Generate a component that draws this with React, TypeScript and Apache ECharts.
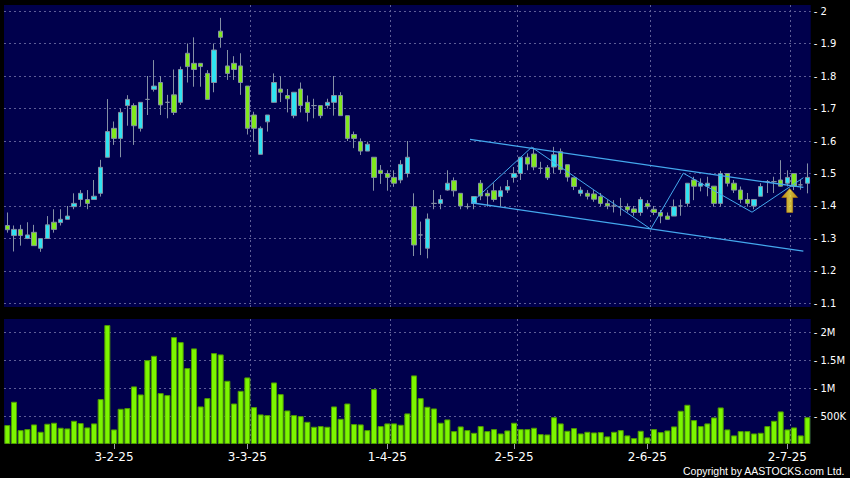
import React, { useEffect, useRef } from "react";
import * as echarts from "echarts";

// Trading days (HK calendar) shown on the chart, per month of 2025
const JAN_DAYS = [7, 8, 9, 10, 13, 14, 15, 16, 17, 20, 21, 22, 23, 24, 27, 28];
const FEB_DAYS = [3, 4, 5, 6, 7, 10, 11, 12, 13, 14, 17, 18, 19, 20, 21, 24, 25, 26, 27, 28];
const MAR_DAYS = [3, 4, 5, 6, 7, 10, 11, 12, 13, 14, 17, 18, 19, 20, 21, 24, 25, 26, 27, 28, 31];
const APR_DAYS = [1, 2, 3, 7, 8, 9, 10, 11, 14, 15, 16, 17, 22, 23, 24, 25, 28, 29, 30];
const MAY_DAYS = [2, 6, 7, 8, 9, 12, 13, 14, 15, 16, 19, 20, 21, 22, 23, 26, 27, 28, 29, 30];
const JUN_DAYS = [2, 3, 4, 5, 6, 9, 10, 11, 12, 13, 16, 17, 18, 19, 20, 23, 24, 25, 26, 27, 30];
const JUL_DAYS = [2, 3, 4, 7];
const MONTHS: [number, number[]][] = [
  [1, JAN_DAYS], [2, FEB_DAYS], [3, MAR_DAYS], [4, APR_DAYS], [5, MAY_DAYS], [6, JUN_DAYS], [7, JUL_DAYS],
];
const categories: string[] = MONTHS.flatMap(([m, ds]) => ds.map((d) => `${d}-${m}-25`));

const TICK_LABELS = ["3-2-25", "3-3-25", "1-4-25", "2-5-25", "2-6-25", "2-7-25"];

const OPEN = [
  1.34, 1.309, 1.328, 1.30, 1.319, 1.27, 1.30, 1.35, 1.349, 1.359,
  1.398, 1.42, 1.42, 1.42, 1.439, 1.55, 1.639, 1.608, 1.709, 1.709,
  1.639, 1.728, 1.759, 1.78, 1.719, 1.742, 1.719, 1.87, 1.839, 1.839,
  1.808, 1.78, 1.938, 1.831, 1.839, 1.831, 1.769, 1.68, 1.559, 1.659,
  1.719, 1.76, 1.74, 1.678, 1.76, 1.719, 1.709, 1.709, 1.709, 1.719,
  1.74, 1.678, 1.62, 1.598, 1.569, 1.55, 1.51, 1.50, 1.488, 1.48,
  1.50, 1.398, 1.311, 1.27, 1.408, 1.408, 1.449, 1.478, 1.439, 1.398,
  1.408, 1.47, 1.439, 1.447, 1.429, 1.449, 1.488, 1.50, 1.55, 1.56,
  1.516, 1.518, 1.52, 1.567, 1.527, 1.487, 1.439, 1.439, 1.437, 1.429,
  1.408, 1.40, 1.398, 1.398, 1.391, 1.38, 1.408, 1.39, 1.38, 1.369,
  1.369, 1.40, 1.408, 1.48, 1.461, 1.461, 1.461, 1.408, 1.50, 1.47,
  1.449, 1.42, 1.40, 1.43, 1.475, 1.475, 1.48, 1.47, 1.50, 1.465,
  1.47,
];
const CLOSE = [
  1.327, 1.328, 1.309, 1.311, 1.278, 1.30, 1.342, 1.328, 1.359, 1.369,
  1.408, 1.439, 1.408, 1.43, 1.519, 1.629, 1.608, 1.688, 1.728, 1.647,
  1.719, 1.728, 1.769, 1.711, 1.719, 1.688, 1.82, 1.829, 1.82, 1.829,
  1.728, 1.88, 1.919, 1.808, 1.82, 1.78, 1.639, 1.639, 1.639, 1.68,
  1.78, 1.75, 1.73, 1.75, 1.709, 1.688, 1.709, 1.678, 1.719, 1.74,
  1.678, 1.608, 1.608, 1.569, 1.59, 1.488, 1.50, 1.488, 1.47, 1.528,
  1.55, 1.28, 1.311, 1.36, 1.408, 1.42, 1.47, 1.447, 1.40, 1.398,
  1.429, 1.431, 1.431, 1.42, 1.447, 1.46, 1.50, 1.55, 1.529, 1.52,
  1.516, 1.487, 1.558, 1.512, 1.489, 1.46, 1.449, 1.43, 1.421, 1.408,
  1.40, 1.40, 1.398, 1.388, 1.38, 1.42, 1.398, 1.38, 1.369, 1.359,
  1.398, 1.40, 1.47, 1.461, 1.47, 1.47, 1.408, 1.50, 1.47, 1.449,
  1.42, 1.408, 1.42, 1.46, 1.475, 1.475, 1.461, 1.488, 1.46, 1.465,
  1.488,
];
const LOW = [
  1.318, 1.26, 1.278, 1.298, 1.278, 1.259, 1.30, 1.318, 1.34, 1.359,
  1.39, 1.40, 1.39, 1.42, 1.429, 1.55, 1.588, 1.55, 1.647, 1.588,
  1.629, 1.68, 1.752, 1.68, 1.67, 1.68, 1.711, 1.78, 1.767, 1.767,
  1.728, 1.75, 1.887, 1.788, 1.788, 1.742, 1.62, 1.598, 1.559, 1.629,
  1.72, 1.72, 1.688, 1.67, 1.688, 1.66, 1.67, 1.67, 1.70, 1.678,
  1.678, 1.60, 1.578, 1.557, 1.569, 1.447, 1.468, 1.447, 1.459, 1.47,
  1.488, 1.246, 1.249, 1.239, 1.39, 1.39, 1.447, 1.429, 1.39, 1.39,
  1.39, 1.418, 1.398, 1.413, 1.398, 1.44, 1.472, 1.48, 1.51, 1.51,
  1.50, 1.48, 1.50, 1.50, 1.475, 1.449, 1.43, 1.42, 1.413, 1.40,
  1.39, 1.38, 1.37, 1.38, 1.37, 1.37, 1.39, 1.372, 1.347, 1.359,
  1.369, 1.37, 1.398, 1.418, 1.445, 1.43, 1.398, 1.398, 1.46, 1.44,
  1.408, 1.398, 1.39, 1.43, 1.44, 1.44, 1.46, 1.46, 1.449, 1.45,
  1.439,
];
const HIGH = [
  1.38, 1.34, 1.342, 1.35, 1.342, 1.30, 1.369, 1.39, 1.39, 1.40,
  1.439, 1.449, 1.449, 1.48, 1.542, 1.729, 1.66, 1.70, 1.741, 1.716,
  1.72, 1.80, 1.849, 1.80, 1.742, 1.82, 1.829, 1.90, 1.919, 1.839,
  1.818, 1.90, 1.979, 1.88, 1.861, 1.87, 1.769, 1.69, 1.645, 1.68,
  1.808, 1.80, 1.76, 1.75, 1.78, 1.74, 1.73, 1.709, 1.73, 1.80,
  1.75, 1.678, 1.629, 1.608, 1.598, 1.55, 1.526, 1.51, 1.51, 1.541,
  1.60, 1.439, 1.352, 1.377, 1.449, 1.434, 1.51, 1.488, 1.439, 1.408,
  1.43, 1.48, 1.449, 1.47, 1.46, 1.48, 1.52, 1.55, 1.562, 1.58,
  1.536, 1.526, 1.582, 1.577, 1.527, 1.487, 1.459, 1.449, 1.449, 1.44,
  1.418, 1.418, 1.425, 1.408, 1.40, 1.428, 1.418, 1.40, 1.388, 1.38,
  1.42, 1.42, 1.47, 1.49, 1.485, 1.49, 1.461, 1.508, 1.50, 1.48,
  1.46, 1.44, 1.42, 1.47, 1.48, 1.49, 1.541, 1.51, 1.50, 1.48,
  1.531,
];
const VOLUME = [
  339000, 757000, 249000, 267000, 351000, 219000, 363000, 381000, 291000, 279000,
  416000, 375000, 297000, 369000, 805000, 2131000, 261000, 631000, 643000, 1032000,
  888000, 1503000, 1581000, 912000, 876000, 1916000, 1826000, 1360000, 1713000, 673000,
  822000, 1629000, 1605000, 1133000, 726000, 953000, 1193000, 661000, 530000, 518000,
  1103000, 894000, 601000, 518000, 500000, 398000, 309000, 321000, 309000, 673000,
  452000, 726000, 357000, 351000, 249000, 984000, 321000, 369000, 369000, 345000,
  548000, 1229000, 822000, 667000, 637000, 381000, 440000, 231000, 315000, 249000,
  201000, 321000, 231000, 267000, 189000, 243000, 381000, 267000, 267000, 291000,
  177000, 171000, 480000, 369000, 237000, 285000, 189000, 219000, 207000, 213000,
  136000, 219000, 249000, 154000, 106000, 237000, 118000, 267000, 213000, 243000,
  315000, 596000, 703000, 428000, 321000, 369000, 476000, 655000, 261000, 154000,
  231000, 231000, 189000, 201000, 321000, 416000, 584000, 261000, 297000, 154000,
  480000,
];

// Drawn annotations, in [candle index, price]
const UPPER_CHANNEL = [[69.4, 1.605], [119.4, 1.457]];
const LOWER_CHANNEL = [[69.6, 1.41], [119.4, 1.261]];
const ZIGZAG = [[69.6, 1.41], [78.65, 1.581], [96.5, 1.329], [101.4, 1.501], [111.7, 1.381], [119.4, 1.487]];
const ARROW_POINT = [[117.35, 1.417]];

const PRICE_MIN = 1.0892;
const PRICE_MAX = 2.0185;
const VOL_MAX = 2240000;

const NAVY = "#00004c";
const GRID_LINE = "#5e5e96";
const UP_FILL = "#2fe3f2";
const DOWN_FILL = "#80e81e";
const CANDLE_EDGE = "#8490a4";
const TREND = "#44a8ee";
const FONT = "DejaVu Sans";

const App: React.FC = () => {
  const ref = useRef<HTMLDivElement>(null);

  useEffect(() => {
    if (!ref.current) return;
    const chart = echarts.init(ref.current, undefined, { renderer: "svg" });

    const showLabel = (_i: number, v: string) => TICK_LABELS.includes(v);
    const showSplit = (i: number) => i > 0 && TICK_LABELS.includes(categories[i - 1]);
    const splitStyle = {
      show: true,
      interval: showSplit,
      showMinLine: false,
      showMaxLine: false,
      lineStyle: { color: GRID_LINE, type: [2, 3], width: 1 },
    };
    const hSplit = {
      show: true,
      showMinLine: false,
      showMaxLine: false,
      lineStyle: { color: GRID_LINE, type: [2, 3], width: 1 },
    };

    const candleData = OPEN.map((o, i) => [o, CLOSE[i], LOW[i], HIGH[i]]);

    chart.setOption({
      animation: false,
      backgroundColor: "#000000",
      grid: [
        { left: 4, top: 5, width: 806.7, height: 302, show: true, backgroundColor: NAVY, borderWidth: 0 },
        { left: 4, top: 319, width: 806.7, height: 125, show: true, backgroundColor: NAVY, borderWidth: 0 },
      ],
      xAxis: [
        {
          type: "category",
          gridIndex: 0,
          data: categories,
          boundaryGap: true,
          axisLine: { show: false },
          axisTick: { show: false },
          axisLabel: { show: false },
          splitLine: splitStyle,
        },
        {
          type: "category",
          gridIndex: 1,
          data: categories,
          boundaryGap: true,
          axisLine: { show: false },
          axisTick: {
            show: true,
            alignWithLabel: true,
            interval: showLabel,
            length: 5,
            lineStyle: { color: "#9a9aaa" },
          },
          axisLabel: {
            interval: showLabel,
            color: "#ffffff",
            fontFamily: FONT,
            fontSize: 12,
            margin: 7,
          },
          splitLine: splitStyle,
        },
        { type: "value", gridIndex: 0, min: -0.5, max: 120.5, show: false },
      ],
      yAxis: [
        {
          type: "value",
          gridIndex: 0,
          position: "right",
          min: PRICE_MIN,
          max: PRICE_MAX,
          splitNumber: 9,
          axisLine: { show: false },
          axisTick: { show: false },
          axisLabel: {
            showMinLabel: false,
            showMaxLabel: false,
            color: "#ffffff",
            fontFamily: FONT,
            fontSize: 10,
            margin: 3,
            formatter: (v: number) => "- " + String(Math.round(v * 10) / 10),
          },
          splitLine: hSplit,
        },
        {
          type: "value",
          gridIndex: 1,
          position: "right",
          min: 0,
          max: VOL_MAX,
          interval: 500000,
          axisLine: { show: false },
          axisTick: { show: false },
          axisLabel: {
            showMinLabel: false,
            showMaxLabel: false,
            color: "#ffffff",
            fontFamily: FONT,
            fontSize: 10,
            margin: 3,
            formatter: (v: number) =>
              v >= 1000000 ? `- ${v / 1000000}M` : `- ${v / 1000}K`,
          },
          splitLine: hSplit,
        },
      ],
      series: [
        {
          type: "candlestick",
          xAxisIndex: 0,
          yAxisIndex: 0,
          data: candleData,
          barWidth: 5,
          itemStyle: {
            color: UP_FILL,
            color0: DOWN_FILL,
            borderColor: CANDLE_EDGE,
            borderColor0: CANDLE_EDGE,
            borderColorDoji: CANDLE_EDGE,
            borderWidth: 1,
          },
          z: 3,
        },
        {
          type: "bar",
          xAxisIndex: 1,
          yAxisIndex: 1,
          data: VOLUME,
          barWidth: 6,
          itemStyle: { color: "#7cf600", borderColor: "#4f9a00", borderWidth: 1 },
        },
        {
          type: "line",
          xAxisIndex: 2,
          yAxisIndex: 0,
          data: UPPER_CHANNEL,
          symbol: "none",
          lineStyle: { color: TREND, width: 1.3 },
          z: 4,
        },
        {
          type: "line",
          xAxisIndex: 2,
          yAxisIndex: 0,
          data: LOWER_CHANNEL,
          symbol: "none",
          lineStyle: { color: TREND, width: 1.3 },
          z: 4,
        },
        {
          type: "line",
          xAxisIndex: 2,
          yAxisIndex: 0,
          data: ZIGZAG,
          symbol: "none",
          lineStyle: { color: TREND, width: 1 },
          z: 4,
        },
        {
          type: "scatter",
          xAxisIndex: 2,
          yAxisIndex: 0,
          data: ARROW_POINT,
          symbol: "path://M8,0 L16,9 L11,9 L11,24 L5,24 L5,9 L0,9 Z",
          symbolSize: [16, 24],
          itemStyle: {
            color: new echarts.graphic.LinearGradient(0, 0, 1, 0, [
              { offset: 0, color: "#f0a400" },
              { offset: 0.5, color: "#ffec40" },
              { offset: 1, color: "#f0a400" },
            ]),
            borderColor: "#d89000",
            borderWidth: 0.5,
          },
          z: 5,
        },
      ],
      graphic: [
        {
          type: "text",
          right: 5,
          top: 465,
          style: {
            text: "Copyright by AASTOCKS.com Ltd.",
            fill: "#ffffff",
            fontSize: 10.5,
            fontFamily: "Liberation Sans",
          },
        },
      ],
    });

    return () => chart.dispose();
  }, []);

  return (
    <div
      ref={ref}
      style={{ position: "fixed", left: 0, top: 0, width: 850, height: 478, background: "#000" }}
    />
  );
};

export default App;
